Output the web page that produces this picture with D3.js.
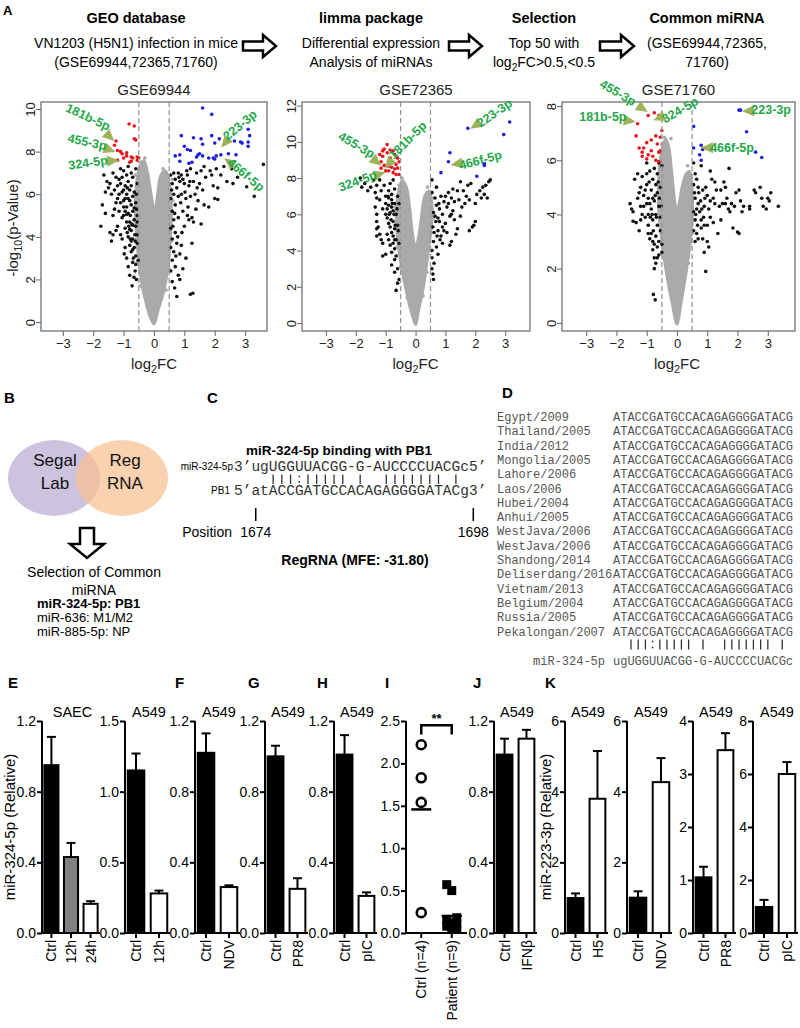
<!DOCTYPE html>
<html><head><meta charset="utf-8">
<script src="https://cdn.jsdelivr.net/npm/d3@7"></script>
<style>
body{margin:0;background:#fff}
svg{display:block;font-family:"Liberation Sans",Arial,sans-serif}
</style></head><body>
<svg id="c" width="800" height="1028"></svg>
<script>
// ================= DATA =================
const headerTitles = ["GEO database","limma package","Selection","Common miRNA"];
const headerLine1 = ["VN1203 (H5N1) infection in mice","Differential expression","Top 50 with","(GSE69944,72365,"];
const headerLine2 = ["(GSE69944,72365,71760)","Analysis of miRNAs","log_2FC>0.5,<0.5","71760)"];

const volcanoTitles = ["GSE69944","GSE72365","GSE71760"];
const volcanoXTicks = [-3,-2,-1,0,1,2,3];
const volcanoYTicks = [[0,2,4,6,8,10],[0,2,4,6,8,10,12],[0,2,4,6,8]];
const annotLabels = ["181b-5p","455-3p","324-5p","223-3p","466f-5p"];

// GSE69944
const v1Red = [[-1.25,8.5],[-1.3,8.3],[-0.82,9.3],[-0.65,9.2],[-0.65,8.6],[-0.6,8.55],[-1.2,8.05],[-1.1,8.0],[-1.05,7.9],[-0.9,7.8],[-0.75,7.75],[-0.55,7.75],[-0.5,7.7],[-0.55,7.6],[-0.75,7.55],[-0.8,7.5],[-1.0,7.7],[-1.2,7.6],[-0.9,7.95],[-0.7,7.7]];
const v1Blue = [[1.6,10.05],[1.9,9.75],[0.9,8.75],[1.3,8.65],[1.55,8.6],[1.9,8.75],[2.15,8.6],[3.1,9.05],[3.15,8.75],[3.1,8.45],[3.1,8.25],[2.9,8.4],[2.85,8.45],[2.65,8.5],[2.0,8.4],[1.6,8.35],[1.0,8.25],[1.1,8.1],[1.2,8.05],[1.5,7.9],[1.45,7.85],[1.6,7.8],[1.4,7.75],[0.7,7.8],[0.85,7.85],[1.25,7.5],[1.15,7.45],[2.05,7.8],[2.2,7.85],[1.95,7.7],[2.0,7.65],[2.45,7.9],[2.7,7.85],[1.8,7.7],[0.85,7.55]];
const v1Black = [[-1.75,4.5],[-1.6,5.1],[-1.55,6.6],[-1.65,6.9],[-1.5,6.3],[-1.45,4.2],[-1.4,3.8],[-1.35,7.0],[-1.3,5.3],[-1.35,4.1],[-1.25,6.8],[-1.2,6.4],[-1.2,5.8],[-1.2,4.5],[-1.15,6.0],[-1.1,7.2],[-1.1,6.5],[-1.1,5.6],[-1.05,4.9],[-1.0,7.1],[-1.0,6.2],[-1.0,5.0],[-0.95,5.8],[-0.95,4.4],[-0.95,3.5],[-0.9,6.9],[-0.9,6.0],[-0.9,5.4],[-0.9,3.0],[-0.85,7.3],[-0.85,6.6],[-0.85,5.1],[-0.85,4.0],[-0.85,2.6],[-0.8,6.2],[-0.8,5.7],[-0.8,4.7],[-0.8,3.6],[-0.8,2.2],[-0.75,7.0],[-0.75,6.4],[-0.75,5.5],[-0.75,4.3],[-0.75,3.3],[-0.72,1.7],[-0.7,6.8],[-0.7,5.9],[-0.7,5.2],[-0.7,3.9],[-0.7,2.8],[-0.65,6.1],[-0.65,4.8],[-0.65,3.5],[-0.62,2.4],[-0.6,7.2],[-0.6,5.6],[-0.6,4.5],[-0.6,3.1],[-0.58,2.0],[-0.55,6.5],[-0.55,5.0],[-0.55,4.1],[-0.55,3.7],[-0.52,2.9],[-1.3,6.2],[-1.45,6.5],[-1.0,5.4],[-1.05,6.8],[-0.95,6.4],[-1.15,5.2],[-0.9,4.7],[-0.88,4.2],
 [-1.15,6.7],[-1.05,6.1],[-1.0,5.7],[-0.95,5.2],[-0.9,5.05],[-0.88,6.3],[-0.85,5.8],[-0.83,4.5],[-0.8,4.35],[-0.78,5.0],[-0.78,3.9],[-0.75,3.8],[-0.73,4.6],[-0.7,4.55],[-0.7,3.4],[-0.68,3.0],[-0.66,2.1],[-0.65,5.35],[-0.63,4.1],[-0.62,3.8],[-0.6,2.7],[-0.58,6.0],[-0.57,5.3],[-0.55,4.7],[-1.25,5.6],[-1.4,6.0],[-1.6,6.1],[-1.7,5.5],[-1.25,4.3],[-1.1,4.1],[-1.05,3.9],[-0.98,3.2],[-1.35,5.0],
 [0.55,6.9],[0.55,5.8],[0.55,4.4],[0.55,3.5],[0.55,2.4],[0.6,6.5],[0.6,5.2],[0.6,3.9],[0.6,2.9],[0.65,7.0],[0.65,6.0],[0.65,4.8],[0.65,3.3],[0.7,6.7],[0.7,5.5],[0.7,4.2],[0.7,2.6],[0.75,6.3],[0.75,3.7],[0.75,1.2],[0.8,7.0],[0.8,5.9],[0.8,4.9],[0.8,2.2],[0.85,6.6],[0.85,3.2],[0.85,2.0],[0.9,6.9],[0.9,6.0],[0.9,3.6],[0.95,5.2],[0.95,2.5],[1.0,6.5],[1.0,4.5],[1.05,5.8],[1.05,3.0],[1.1,6.9],[1.1,5.0],[1.15,6.4],[1.15,4.8],[1.2,7.2],[1.2,5.9],[1.2,1.3],[1.25,3.7],[1.28,1.35],[1.3,6.6],[1.3,4.7],[1.35,6.0],[1.4,7.0],[1.45,5.7],[1.5,6.5],[1.55,7.1],[1.6,6.2],[1.65,5.5],[1.7,6.8],[1.8,5.4],[1.85,7.1],[1.95,6.4],[2.0,5.8],[2.05,7.2],[2.1,5.75],[2.2,6.9],[2.3,7.3],[2.55,7.2],[2.75,6.8],[3.05,6.35],[3.3,5.9],[3.6,7.4],[2.4,6.6],[1.55,4.6],[1.25,4.9],[0.95,6.7],
 [0.58,6.2],[0.62,4.5],[0.68,5.1],[0.72,3.1],[0.78,4.0],[0.82,6.8],[0.88,5.6],[0.92,4.2],[1.02,6.1],[1.08,7.1],[1.12,5.4],[1.18,6.6],[1.38,5.3],[1.42,6.3],[0.6,1.9],[0.68,1.6],[1.65,7.3],[1.9,6.9],[2.1,6.3],[2.6,6.5]];
const v1Gray = [[0,-0.1],[0.15,0.6],[0.3,1.3],[0.42,2.1],[0.5,3],[0.55,4],[0.58,5],[0.56,6],[0.5,6.6],[0.38,7.1],[0.22,6.9],[0.12,6.1],[0.02,5.2],[-0.1,6.1],[-0.22,7.1],[-0.33,7.6],[-0.48,7.3],[-0.58,6.5],[-0.62,5.5],[-0.6,4.5],[-0.55,3.5],[-0.48,2.5],[-0.38,1.6],[-0.25,0.8],[-0.12,0.2]];
const v1GrayPts = [[-0.42,7.5],[-0.3,7.7],[0.3,7.2],[0.45,6.9],[0.6,6.7],[-0.62,6.9],[0.62,5.7],[-0.66,4.8],[0.58,3.8],[-0.55,2.8],[0.5,2.5],[-0.45,1.7],[0.4,1.5]];

// GSE72365
const v2Red = [[-0.95,9.85],[-1.1,9.5],[-1.05,9.6],[-0.85,9.55],[-0.75,9.5],[-0.7,9.3],[-0.95,9.4],[-1.2,9.3],[-0.6,9.1],[-0.55,8.9],[-0.65,8.75],[-1.15,8.9],[-1.05,8.7],[-0.9,8.65],[-0.8,8.6],[-0.7,8.5],[-0.6,8.55],[-1.0,8.4],[-0.9,8.4],[-0.75,8.3],[-0.55,8.2],[-1.15,8.55],[-0.65,8.2],[-1.1,9.2],[-0.85,9.1]];
const v2Blue = [[1.75,10.75],[3.15,11.1],[2.95,10.4],[1.15,9.4],[1.1,8.9],[2.3,8.8],[2.3,8.7],[0.85,8.3],[2.05,8.1]];
const v2Black = [[-1.85,8.0],[-1.8,7.5],[-1.7,7.7],[-1.6,7.3],[-1.5,7.5],[-1.4,7.9],[-1.3,7.6],[-1.2,7.9],[-1.35,7.2],[-1.35,6.4],[-1.3,6.0],[-1.3,5.6],[-1.3,5.2],[-1.3,4.8],[-1.3,6.9],[-1.25,5.3],[-1.2,4.9],[-1.15,4.6],[-1.1,4.4],[-1.1,3.7],[-1.0,3.8],[-1.05,7.6],[-1.0,7.0],[-1.0,6.6],[-0.95,6.3],[-0.95,5.8],[-0.9,7.3],[-0.9,6.9],[-0.9,6.5],[-0.9,5.5],[-0.9,4.6],[-0.85,7.7],[-0.85,6.1],[-0.85,5.3],[-0.85,4.3],[-0.8,7.1],[-0.8,6.8],[-0.8,6.4],[-0.8,5.0],[-0.8,3.9],[-0.8,3.2],[-0.75,7.9],[-0.75,6.2],[-0.75,5.6],[-0.7,7.4],[-0.7,6.6],[-0.7,5.2],[-0.7,4.1],[-0.7,3.5],[-0.7,2.8],[-0.65,6.0],[-0.65,4.6],[-0.6,7.0],[-0.6,5.4],[-0.6,3.0],[-0.55,4.4],[-0.55,2.4],[-0.65,1.8],[-0.6,2.2],[-0.55,6.6],[-1.1,6.3],[-1.0,6.0],[-0.95,4.9],[-1.2,6.8],[-1.15,7.3],[-0.75,4.8],
 [-0.92,7.0],[-0.88,6.0],[-0.82,5.7],[-0.78,6.6],[-0.72,6.0],[-0.68,5.4],[-0.62,6.3],[-0.58,5.1],[-0.75,4.4],[-0.7,4.6],[-0.65,3.7],
 [0.55,7.9],[0.55,7.2],[0.55,4.0],[0.55,3.6],[0.55,3.0],[0.6,6.1],[0.6,4.5],[0.6,2.4],[0.65,6.9],[0.65,5.9],[0.7,7.5],[0.7,6.5],[0.7,4.2],[0.75,5.8],[0.75,5.1],[0.8,6.3],[0.8,5.6],[0.85,7.0],[0.85,4.8],[0.9,6.0],[0.9,5.3],[0.95,6.7],[0.95,5.1],[1.0,7.0],[1.0,5.5],[1.05,6.4],[1.05,5.0],[1.1,7.2],[1.15,5.9],[1.15,4.3],[1.2,6.9],[1.2,4.5],[1.25,6.2],[1.3,6.7],[1.3,5.7],[1.35,4.9],[1.4,7.3],[1.45,6.8],[1.5,5.9],[1.5,7.8],[1.6,7.3],[1.65,6.6],[1.7,7.0],[1.75,7.6],[1.8,6.8],[1.8,5.1],[1.85,7.7],[1.9,5.3],[1.95,5.4],[2.0,6.6],[2.0,5.6],[2.05,7.1],[2.15,7.3],[2.2,6.9],[2.25,7.5],[2.35,7.6],[2.45,7.8],[2.5,7.9],[2.4,6.9],[2.3,7.1],[1.2,6.0],[1.4,5.2],[0.9,4.4],[1.25,7.4],[0.75,3.8],
 [0.58,5.3],[0.62,5.0],[0.68,5.6],[0.72,4.8],[0.78,6.6],[0.82,4.6],[0.62,3.3],[0.58,2.7],[1.1,6.6],[1.55,6.4]];
const v2Gray = [[0,-0.1],[0.12,0.8],[0.25,1.8],[0.36,3],[0.45,4.2],[0.55,5.5],[0.56,6.5],[0.45,7.3],[0.3,7.0],[0.2,6.0],[0.1,4.8],[0,4.2],[-0.1,5.0],[-0.2,6.5],[-0.3,7.5],[-0.45,7.9],[-0.58,7.2],[-0.65,6.0],[-0.6,4.5],[-0.47,3.0],[-0.32,1.8],[-0.18,0.8]];
const v2GrayPts = [[-0.45,8.0],[-0.55,7.6],[0.4,7.5],[0.55,6.9],[-0.68,6.4],[0.6,5.8],[-0.62,4.2],[0.5,4.0],[-0.5,3.1],[0.38,2.8],[0.25,1.5],[-0.28,1.4]];

// GSE71760
const v3Red = [[-1.3,7.35],[-0.95,7.65],[-0.75,7.75],[-0.6,7.65],[-0.5,7.1],[-0.55,6.85],[-0.7,6.9],[-1.35,6.9],[-0.85,6.75],[-1.0,6.65],[-1.25,6.45],[-1.1,6.45],[-0.65,6.6],[-0.55,6.35],[-1.15,6.3],[-0.95,6.2],[-0.8,6.15],[-1.0,6.05],[-0.7,6.0],[-0.6,5.95],[-1.15,6.15],[-0.85,6.35],[-0.6,6.3]];
const v3Blue = [[2.1,7.85],[2.05,7.85],[0.55,7.25],[2.3,7.05],[0.8,6.55],[0.55,6.45],[0.85,6.4],[2.6,6.3],[2.8,6.1],[0.75,6.2],[0.8,6.0]];
const v3Black = [[-1.55,4.4],[-1.5,4.2],[-1.45,4.1],[-1.45,3.75],[-1.35,3.7],[-1.4,5.3],[-1.3,5.5],[-1.25,4.8],[-1.25,3.4],[-1.2,3.8],[-1.2,5.0],[-1.15,5.4],[-1.1,4.7],[-1.1,4.3],[-1.05,3.9],[-1.0,5.9],[-1.0,5.5],[-1.0,5.1],[-0.95,4.6],[-0.95,4.0],[-0.95,3.6],[-0.9,4.4],[-0.9,5.6],[-0.85,4.9],[-0.85,4.2],[-0.85,3.3],[-0.8,5.3],[-0.8,4.6],[-0.8,3.8],[-0.8,3.0],[-0.8,2.7],[-0.75,5.7],[-0.75,4.5],[-0.75,2.4],[-0.75,2.0],[-0.7,5.1],[-0.7,4.0],[-0.7,3.2],[-0.7,2.2],[-0.65,5.5],[-0.65,4.8],[-0.65,3.6],[-0.65,2.8],[-0.6,4.3],[-0.6,3.0],[-0.6,2.5],[-0.55,5.0],[-0.55,3.9],[-0.55,3.4],[-0.5,5.8],[-0.5,2.9],[-0.5,2.6],[-0.78,1.05],[-0.72,0.85],[-1.3,4.6],[-1.0,4.4],[-0.9,3.1],[-1.15,4.0],[-0.6,5.9],
 [-0.92,5.2],[-0.88,3.9],[-0.82,4.0],[-0.78,3.4],[-0.72,4.7],[-0.68,3.9],[-0.62,5.2],[-0.58,4.6],[-0.52,4.3],[-1.05,4.9],[-1.2,4.3],[-0.95,3.3],[-0.75,2.9],[-0.65,2.4],
 [0.55,5.9],[0.55,5.1],[0.55,4.1],[0.55,3.4],[0.6,5.5],[0.6,4.6],[0.6,3.8],[0.6,3.0],[0.65,4.2],[0.65,3.3],[0.7,5.0],[0.7,4.4],[0.75,4.1],[0.8,5.8],[0.8,3.8],[0.8,3.5],[0.85,4.9],[0.85,3.1],[0.9,4.3],[0.9,3.6],[0.9,2.6],[0.95,5.0],[0.95,1.9],[1.0,4.7],[1.0,3.0],[1.05,4.2],[1.05,2.8],[1.1,5.6],[1.1,3.9],[1.15,5.3],[1.2,4.6],[1.2,3.7],[1.25,5.2],[1.3,4.9],[1.35,3.3],[1.4,4.3],[1.45,3.8],[1.5,4.4],[1.55,5.2],[1.6,5.0],[1.65,4.6],[1.7,4.2],[1.72,5.7],[1.8,4.4],[1.85,3.5],[1.9,4.3],[1.95,4.8],[2.0,3.35],[2.05,3.3],[2.05,4.9],[2.15,4.1],[2.2,4.3],[1.75,4.1],[2.4,4.3],[2.4,4.2],[2.55,4.9],[2.6,4.8],[2.75,5.0],[2.8,4.6],[2.85,4.3],[2.95,4.2],[3.0,4.6],[3.05,4.5],[3.1,4.8],[3.35,4.3],[1.45,4.9],[1.1,4.5],
 [0.58,4.8],[0.62,4.0],[0.68,3.6],[0.72,4.8],[0.78,4.5],[0.82,4.2],[0.88,3.9],[0.92,4.6],[1.0,3.6],[1.25,4.4],[1.6,4.4],[2.1,4.5],[0.65,5.3],[0.7,3.1]];
const v3Gray = [[0,-0.05],[0.15,0.8],[0.3,1.8],[0.45,3.0],[0.52,4.0],[0.5,5.0],[0.42,5.6],[0.3,5.5],[0.18,5.1],[0.08,4.5],[0,4.1],[-0.08,4.6],[-0.17,5.6],[-0.27,6.5],[-0.38,6.8],[-0.52,6.3],[-0.62,5.2],[-0.6,4.0],[-0.5,3.0],[-0.35,1.8],[-0.18,0.8]];
const v3GrayPts = [[-0.42,6.85],[-0.5,6.6],[-0.2,6.8],[0.35,5.8],[0.46,5.4],[-0.64,5.5],[0.55,4.6],[-0.62,3.6],[0.5,3.3],[-0.45,2.4],[0.38,2.2],[-0.25,1.2]];

// Panel B
const vennSets = ["Segal|Lab","Reg|RNA"];
const commonTitle = ["Selection of Common","miRNA"];
const commonMiRNA = ["miR-324-5p: PB1","miR-636: M1/M2","miR-885-5p: NP"];

// Panel C / D
const mirSeq = "ugUGGUUACGG-G-AUCCCCUACGc";
const pb1Seq = "atACCGATGCCACAGAGGGGATACg";
const positions = ["1674","1698"];
const strainNames = ["Egypt/2009","Thailand/2005","India/2012","Mongolia/2005","Lahore/2006","Laos/2006","Hubei/2004","Anhui/2005","WestJava/2006","WestJava/2006","Shandong/2014","Deliserdang/2016","Vietnam/2013","Belgium/2004","Russia/2005","Pekalongan/2007"];
const strainSeqs = strainNames.map(() => "ATACCGATGCCACAGAGGGGATACG");

// Bar panels E-K
const catsE1=["Ctrl","12h","24h"], valE1=[0.95,0.43,0.165], errE1=[0.16,0.08,0.015];
const catsE2=["Ctrl","12h"], valE2=[1.15,0.28], errE2=[0.12,0.02];
const catsF=["Ctrl","NDV"], valF=[1.02,0.26], errF=[0.11,0.01];
const catsG=["Ctrl","PR8"], valG=[1.0,0.25], errG=[0.06,0.06];
const catsH=["Ctrl","pIC"], valH=[1.01,0.21], errH=[0.11,0.02];
const catsJ=["Ctrl","IFNβ"], valJ=[1.01,1.10], errJ=[0.09,0.05];
const catsK1=["Ctrl","H5"], valK1=[0.99,3.8], errK1=[0.13,1.35];
const catsK2=["Ctrl","NDV"], valK2=[1.0,4.27], errK2=[0.18,0.68];
const catsK3=["Ctrl","PR8"], valK3=[1.05,3.45], errK3=[0.2,0.32];
const catsK4=["Ctrl","pIC"], valK4=[0.98,6.0], errK4=[0.27,0.45];
const catsI=["Ctrl (n=4)","Patient (n=9)"];
const ctrlI=[2.22,1.83,1.54,0.24];
const patientI=[0.57,0.50,0.18,0.15,0.12,0.10,0.08,0.06,0.05];

// ================= DRAW =================
const svg = d3.select("#c");
const GREEN="#1fa84a", OLIVE="#9db35a";

function rich(sel, str, fs){
  const parts = str.split(/_(\d+)/); let down=false;
  parts.forEach((p,i)=>{
    if(i%2===1){ sel.append("tspan").attr("font-size",fs*0.72).attr("dy",fs*0.28).text(p); down=true; }
    else if(p){ const t=sel.append("tspan").text(p); if(down){ t.attr("dy",-fs*0.28); down=false; } }
  });
}
function label(x,y,t,fs){ svg.append("text").attr("x",x).attr("y",y).attr("font-weight","bold").attr("font-size",fs||15).text(t); }

// ---- Header ----
label(3,15,"A",13);
const colX=[136,371,544,707];
headerTitles.forEach((t,i)=>{
  svg.append("text").attr("x",colX[i]).attr("y",23).attr("text-anchor","middle").attr("font-weight","bold").attr("font-size",14.5).text(t);
  const a=svg.append("text").attr("x",colX[i]).attr("y",48).attr("text-anchor","middle").attr("font-size",14); rich(a,headerLine1[i],14);
  const b=svg.append("text").attr("x",colX[i]).attr("y",67).attr("text-anchor","middle").attr("font-size",14); rich(b,headerLine2[i],14);
});
function hArrow(x0,x1,cy){
  const hl=13, sh=4.5, hh=11;
  svg.append("path").attr("d",`M${x0},${cy-sh}L${x1-hl},${cy-sh}L${x1-hl},${cy-hh}L${x1},${cy}L${x1-hl},${cy+hh}L${x1-hl},${cy+sh}L${x0},${cy+sh}Z`)
    .attr("fill","#fff").attr("stroke","#000").attr("stroke-width",2.5).attr("stroke-linejoin","miter");
}
[[243,276],[449,482],[600,634]].forEach(a=>hArrow(a[0],a[1],46));

// ---- Volcano ----
const volCfg=[
  {left:41,right:267,xd:[-3.72,3.72],yd:[-0.42,10.33],red:v1Red,blue:v1Blue,black:v1Black,gray:v1Gray,grayPts:v1GrayPts,
   ann:[{t:[-2.17,9.63],p:[-1.45,8.69],r:25},{t:[-2.2,8.46],p:[-1.45,8.08],r:12},{t:[-2.17,7.48],p:[-1.35,7.57],r:-8},{t:[2.83,9.25],p:[2.34,8.41],r:-40},{t:[3.03,6.92],p:[2.47,7.52],r:40}]},
  {left:302,right:530,xd:[-3.8,3.83],yd:[-0.44,12.2],red:v2Red,blue:v2Blue,black:v2Black,gray:v2Gray,grayPts:v2GrayPts,
   ann:[{t:[-0.27,10.1],p:[-0.9,8.78],r:-45},{t:[-1.97,9.83],p:[-1.3,8.9],r:30},{t:[-1.94,7.85],p:[-1.2,8.23],r:-20},{t:[2.64,11.6],p:[2.0,10.9],r:-35},{t:[2.17,9.0],p:[1.37,8.78],r:-15}]},
  {left:562,right:795,xd:[-3.8,3.9],yd:[-0.3,8.15],red:v3Red,blue:v3Blue,black:v3Black,gray:v3Gray,grayPts:v3GrayPts,
   ann:[{t:[-2.45,7.6],p:[-1.56,7.45],r:0},{t:[-1.95,8.5],p:[-1.13,7.9],r:30},{t:[0.1,7.86],p:[-0.6,7.56],r:-30},{t:[3.11,7.86],p:[2.35,7.82],r:0},{t:[1.82,6.46],p:[0.99,6.46],r:0}]}
];
volCfg.forEach((c,i)=>{
  const top=102,bot=331;
  const x=d3.scaleLinear().domain(c.xd).range([c.left,c.right]);
  const y=d3.scaleLinear().domain(c.yd).range([bot,top]);
  const g=svg.append("g");
  g.append("path").datum(c.gray).attr("d",d3.line().x(d=>x(d[0])).y(d=>y(d[1])).curve(d3.curveCatmullRomClosed.alpha(0.5)))
    .attr("fill","#aaaaaa").attr("stroke","#aaaaaa").attr("stroke-width",2.5);
  const dots=(arr,col)=>g.append("g").selectAll("circle").data(arr).join("circle")
    .attr("cx",d=>x(d[0])).attr("cy",d=>y(d[1])).attr("r",1.8).attr("fill",col);
  dots(c.grayPts,"#aaaaaa");
  dots(c.black,"#111"); dots(c.red,"#e5161d"); dots(c.blue,"#1d1fd6");
  [-0.5,0.5].forEach(v=>g.append("line").attr("x1",x(v)).attr("x2",x(v)).attr("y1",top).attr("y2",bot)
    .attr("stroke","#999").attr("stroke-width",1.3).attr("stroke-dasharray","5,3"));
  g.append("rect").attr("x",c.left).attr("y",top).attr("width",c.right-c.left).attr("height",bot-top)
    .attr("fill","none").attr("stroke","#666").attr("stroke-width",1.2);
  const ax=g.append("g").attr("transform",`translate(0,${bot})`).call(d3.axisBottom(x).tickValues(volcanoXTicks).tickSize(5).tickPadding(3).tickFormat(d3.format("d")));
  const ay=g.append("g").attr("transform",`translate(${c.left},0)`).call(d3.axisLeft(y).tickValues(volcanoYTicks[i]).tickSize(5).tickFormat(d3.format("d")));
  [ax,ay].forEach(a=>{a.select(".domain").remove(); a.selectAll("line").attr("stroke","#666"); a.selectAll("text").attr("font-size",13).attr("fill","#222").attr("font-family",null);});
  ay.selectAll("text").attr("transform","rotate(-90)").attr("x",0).attr("y",-6).attr("dy",0).attr("text-anchor","middle");
  g.append("text").attr("x",(c.left+c.right)/2).attr("y",95).attr("text-anchor","middle").attr("font-size",15).attr("fill","#222").text(volcanoTitles[i]);
  const xt=g.append("text").attr("x",x(0)).attr("y",369).attr("text-anchor","middle").attr("font-size",15).attr("fill","#222"); rich(xt,"log_2FC",15);
  if(i===0){ const yt=g.append("text").attr("transform",`translate(18,228) rotate(-90)`).attr("text-anchor","middle").attr("font-size",15).attr("fill","#222"); rich(yt,"-log_10(p-Value)",15); }
  c.ann.forEach((a,k)=>{
    const tx=x(a.t[0]),ty=y(a.t[1]),px=x(a.p[0]),py=y(a.p[1]);
    const ang=Math.atan2(py-ty,px-tx)*180/Math.PI;
    g.append("path").attr("d","M6,0L-6,-5.5L-6,5.5Z").attr("transform",`translate(${px},${py}) rotate(${ang})`).attr("fill",OLIVE);
    g.append("text").attr("transform",`translate(${tx},${ty}) rotate(${a.r})`).attr("text-anchor","middle").attr("dy","0.35em")
      .attr("font-size",12.5).attr("font-weight","bold").attr("fill",GREEN).text(annotLabels[k]);
  });
});

// ---- Panel B ----
label(4,403,"B");
svg.append("ellipse").attr("cx",54).attr("cy",478).attr("rx",46).attr("ry",38).attr("fill","#cdc3de");
svg.append("ellipse").attr("cx",122).attr("cy",478).attr("rx",46).attr("ry",38).attr("fill","#f8c190").attr("opacity",0.72);
vennSets.forEach((s,i)=>{
  s.split("|").forEach((w,j)=>svg.append("text").attr("x",i?125:55).attr("y",466+j*23).attr("text-anchor","middle").attr("font-size",17).attr("fill","#111").text(w));
});
(function(){ const cx=87,t=528,b=558,sw=7,hw=17,hl=14;
  svg.append("path").attr("d",`M${cx-sw},${t}L${cx+sw},${t}L${cx+sw},${b-hl}L${cx+hw},${b-hl}L${cx},${b}L${cx-hw},${b-hl}L${cx-sw},${b-hl}Z`)
   .attr("fill","#fff").attr("stroke","#000").attr("stroke-width",2.5); })();
commonTitle.forEach((t,i)=>svg.append("text").attr("x",94).attr("y",577+i*18).attr("text-anchor","middle").attr("font-size",14).text(t));
commonMiRNA.forEach((t,i)=>svg.append("text").attr("x",37).attr("y",608+i*14).attr("font-size",13).attr("font-weight",i===0?"bold":null).text(t));

// ---- Panel C ----
label(207,403,"C");
svg.append("text").attr("x",339).attr("y",455).attr("text-anchor","middle").attr("font-weight","bold").attr("font-size",13.5).text("miR-324-5p binding with PB1");
function pairChar(t,m){
  if(t==="-"||m==="-"||t!==t.toUpperCase()||m!==m.toUpperCase()) return " ";
  const p=(t==="T"?"U":t)+m;
  if(["AU","UA","CG","GC"].includes(p)) return "|";
  if(["GU","UG"].includes(p)) return ":";
  return " ";
}
const MONO='"Liberation Mono","Courier New",monospace';
const seqX=234;
const r1=svg.append("text").attr("x",seqX).attr("y",471).attr("font-family",MONO).attr("font-size",14.5).attr("fill","#333").text("3’"+mirSeq+"5’");
svg.append("text").attr("x",seqX).attr("y",495).attr("font-family",MONO).attr("font-size",14.5).attr("fill","#333").text("5’"+pb1Seq+"3’");
const cw=r1.node().getComputedTextLength()/(mirSeq.length+4);
svg.append("text").attr("x",seqX-1).attr("y",470).attr("text-anchor","end").attr("font-size",10).text("miR-324-5p");
svg.append("text").attr("x",seqX-4).attr("y",494).attr("text-anchor","end").attr("font-size",10).text("PB1");
function drawPairs(x0,cwid,yTop,yBot,target,mir){
  for(let i=0;i<target.length;i++){
    const c=pairChar(target[i],mir[i]), xc=x0+(i+0.5)*cwid;
    if(c==="|") svg.append("line").attr("x1",xc).attr("x2",xc).attr("y1",yTop).attr("y2",yBot).attr("stroke","#333").attr("stroke-width",1.3);
    else if(c===":"){ [yTop+2,yBot-2].forEach(yy=>svg.append("rect").attr("x",xc-0.8).attr("y",yy-0.8).attr("width",1.6).attr("height",1.6).attr("fill","#333")); }
  }
}
drawPairs(seqX+2*cw,cw,474.5,484,pb1Seq,mirSeq);
[[0,positions[0]],[pb1Seq.length,positions[1]]].forEach(([idx,lab])=>{
  const xc=seqX+(2+idx+0.5)*cw;
  svg.append("line").attr("x1",xc).attr("x2",xc).attr("y1",508).attr("y2",521).attr("stroke","#000").attr("stroke-width",1.5);
  svg.append("text").attr("x",xc).attr("y",537).attr("text-anchor","middle").attr("font-size",14).text(lab);
});
svg.append("text").attr("x",232).attr("y",537).attr("text-anchor","end").attr("font-size",14).text("Position");
svg.append("text").attr("x",355).attr("y",565).attr("text-anchor","middle").attr("font-weight","bold").attr("font-size",14).text("RegRNA (MFE: -31.80)");

// ---- Panel D ----
label(502,398,"D");
const dFs=12, dNameX=497, dSeqX=613, dRow0=421, dStep=14.3;
strainNames.forEach((n,i)=>{
  svg.append("text").attr("x",dNameX).attr("y",dRow0+i*dStep).attr("font-family",MONO).attr("font-size",dFs).attr("fill","#555").text(n);
  svg.append("text").attr("x",dSeqX).attr("y",dRow0+i*dStep).attr("font-family",MONO).attr("font-size",dFs).attr("fill","#555").text(strainSeqs[i]);
});
const dSeqNode=svg.append("text").attr("x",dSeqX).attr("y",dRow0+16*dStep+15).attr("font-family",MONO).attr("font-size",dFs).attr("fill","#555").text(mirSeq);
svg.append("text").attr("x",dSeqX-8).attr("y",dRow0+16*dStep+15).attr("text-anchor","end").attr("font-family",MONO).attr("font-size",dFs).attr("fill","#555").text("miR-324-5p");
const dcw=dSeqNode.node().getComputedTextLength()/mirSeq.length;
drawPairs(dSeqX,dcw,dRow0+15*dStep+4,dRow0+15*dStep+14,strainSeqs[0],mirSeq);

// ---- Bar panels ----
const Y0=933, Y1=721;
const barPanels=[
  {L:"E",lx:8,title:"SAEC",cats:catsE1,vals:valE1,errs:errE1,fills:["#000","#808080","#fff"],max:1.2,ticks:[0,0.4,0.8,1.2],fmt:".1f",x:42,w:58},
  {title:"A549",cats:catsE2,vals:valE2,errs:errE2,fills:["#000","#fff"],max:1.5,ticks:[0,0.5,1.0,1.5],fmt:".1f",x:125,w:45},
  {L:"F",lx:175,title:"A549",cats:catsF,vals:valF,errs:errF,fills:["#000","#fff"],max:1.2,ticks:[0,0.4,0.8,1.2],fmt:".1f",x:195,w:45},
  {L:"G",lx:248,title:"A549",cats:catsG,vals:valG,errs:errG,fills:["#000","#fff"],max:1.2,ticks:[0,0.4,0.8,1.2],fmt:".1f",x:265,w:43},
  {L:"H",lx:317,title:"A549",cats:catsH,vals:valH,errs:errH,fills:["#000","#fff"],max:1.2,ticks:[0,0.4,0.8,1.2],fmt:".1f",x:334,w:43},
  {L:"J",lx:473,title:"A549",cats:catsJ,vals:valJ,errs:errJ,fills:["#000","#fff"],max:1.2,ticks:[0,0.4,0.8,1.2],fmt:".1f",x:494,w:43},
  {L:"K",lx:545,title:"A549",cats:catsK1,vals:valK1,errs:errK1,fills:["#000","#fff"],max:6,ticks:[0,2,4,6],fmt:"d",x:565,w:43},
  {title:"A549",cats:catsK2,vals:valK2,errs:errK2,fills:["#000","#fff"],max:6,ticks:[0,2,4,6],fmt:"d",x:627,w:45},
  {title:"A549",cats:catsK3,vals:valK3,errs:errK3,fills:["#000","#fff"],max:4,ticks:[0,1,2,3,4],fmt:"d",x:693,w:43},
  {title:"A549",cats:catsK4,vals:valK4,errs:errK4,fills:["#000","#fff"],max:8,ticks:[0,2,4,6,8],fmt:"d",x:753,w:45}
];
function leftAxis(y,ticks,fmt,x0){
  const a=svg.append("g").attr("transform",`translate(${x0},0)`).call(d3.axisLeft(y).tickValues(ticks).tickSize(5).tickPadding(1).tickFormat(d3.format(fmt)));
  a.select(".domain").attr("stroke","#000").attr("stroke-width",2).attr("d",`M0,${Y0}V${Y1}`);
  a.selectAll("line").attr("stroke","#000").attr("stroke-width",2);
  a.selectAll("text").attr("font-size",14).attr("fill","#000").attr("font-family",null);
}
function xLabels(x,cats,centerOf){
  cats.forEach(c=>{
    const xc=centerOf(c);
    svg.append("line").attr("x1",xc).attr("x2",xc).attr("y1",Y0).attr("y2",Y0+5).attr("stroke","#000").attr("stroke-width",2);
    svg.append("text").attr("transform",`translate(${xc},940) rotate(-90)`).attr("text-anchor","end").attr("dy","0.36em").attr("font-size",14).text(c);
  });
}
barPanels.forEach(p=>{
  if(p.L) label(p.lx,688,p.L);
  const y=d3.scaleLinear().domain([0,p.max]).range([Y0,Y1]);
  const x=d3.scaleBand().domain(p.cats).range([p.x,p.x+p.w]).paddingInner(0.28).paddingOuter(0.12);
  const g=svg.append("g");
  p.cats.forEach((c,i)=>{
    const xc=x(c)+x.bandwidth()/2, yt=y(p.vals[i]+p.errs[i]);
    g.append("line").attr("x1",xc).attr("x2",xc).attr("y1",y(p.vals[i])).attr("y2",yt).attr("stroke","#000").attr("stroke-width",2);
    g.append("line").attr("x1",xc-4.5).attr("x2",xc+4.5).attr("y1",yt).attr("y2",yt).attr("stroke","#000").attr("stroke-width",2);
  });
  g.selectAll("rect").data(p.cats).join("rect").attr("x",c=>x(c)).attr("y",(c,i)=>y(p.vals[i])).attr("width",x.bandwidth())
    .attr("height",(c,i)=>Y0-y(p.vals[i])).attr("fill",(c,i)=>p.fills[i]).attr("stroke","#000").attr("stroke-width",2);
  leftAxis(y,p.ticks,p.fmt,p.x);
  svg.append("line").attr("x1",p.x).attr("x2",p.x+p.w).attr("y1",Y0).attr("y2",Y0).attr("stroke","#000").attr("stroke-width",2);
  xLabels(x,p.cats,c=>x(c)+x.bandwidth()/2);
  svg.append("text").attr("x",p.x+p.w/2+1.5).attr("y",717).attr("text-anchor","middle").attr("font-size",14.5).text(p.title);
});
svg.append("text").attr("transform","translate(15,827) rotate(-90)").attr("text-anchor","middle").attr("font-size",15).text("miR-324-5p (Relative)");
svg.append("text").attr("transform","translate(551,827) rotate(-90)").attr("text-anchor","middle").attr("font-size",15).text("miR-223-3p (Relative)");

// ---- Panel I ----
(function(){
  label(385,688,"I");
  const x0=406,w=61;
  const y=d3.scaleLinear().domain([0,2.5]).range([Y0,Y1]);
  const x=d3.scalePoint().domain(catsI).range([x0,x0+w]).padding(0.5);
  leftAxis(y,[0,0.5,1,1.5,2,2.5],".1f",x0);
  svg.append("line").attr("x1",x0).attr("x2",x0+w).attr("y1",Y0).attr("y2",Y0).attr("stroke","#000").attr("stroke-width",2);
  xLabels(x,catsI,c=>x(c));
  const cx=x(catsI[0]), px=x(catsI[1]);
  svg.selectAll("circle.ctrl").data(ctrlI).join("circle").attr("class","ctrl").attr("cx",cx).attr("cy",d=>y(d)).attr("r",4.5)
    .attr("fill","#fff").attr("stroke","#000").attr("stroke-width",2.6);
  svg.selectAll("rect.pat").data(patientI).join("rect").attr("class","pat").attr("x",(d,i)=>px+((i%3)-1)*5-4.5).attr("y",d=>y(d)-4.5)
    .attr("width",9).attr("height",9).attr("fill","#000");
  [[cx,d3.mean(ctrlI)],[px,d3.mean(patientI)]].forEach(([xc,m])=>svg.append("line").attr("x1",xc-10).attr("x2",xc+10).attr("y1",y(m)).attr("y2",y(m)).attr("stroke","#000").attr("stroke-width",2.5));
  const yb=y(2.45), yt=y(2.34);
  svg.append("path").attr("d",`M${cx},${yt}V${yb}H${px}V${yt}`).attr("fill","none").attr("stroke","#000").attr("stroke-width",2.5);
  svg.append("text").attr("x",(cx+px)/2).attr("y",yb-2).attr("text-anchor","middle").attr("font-size",13).attr("font-weight","bold").text("**");
})();
</script></body></html>
